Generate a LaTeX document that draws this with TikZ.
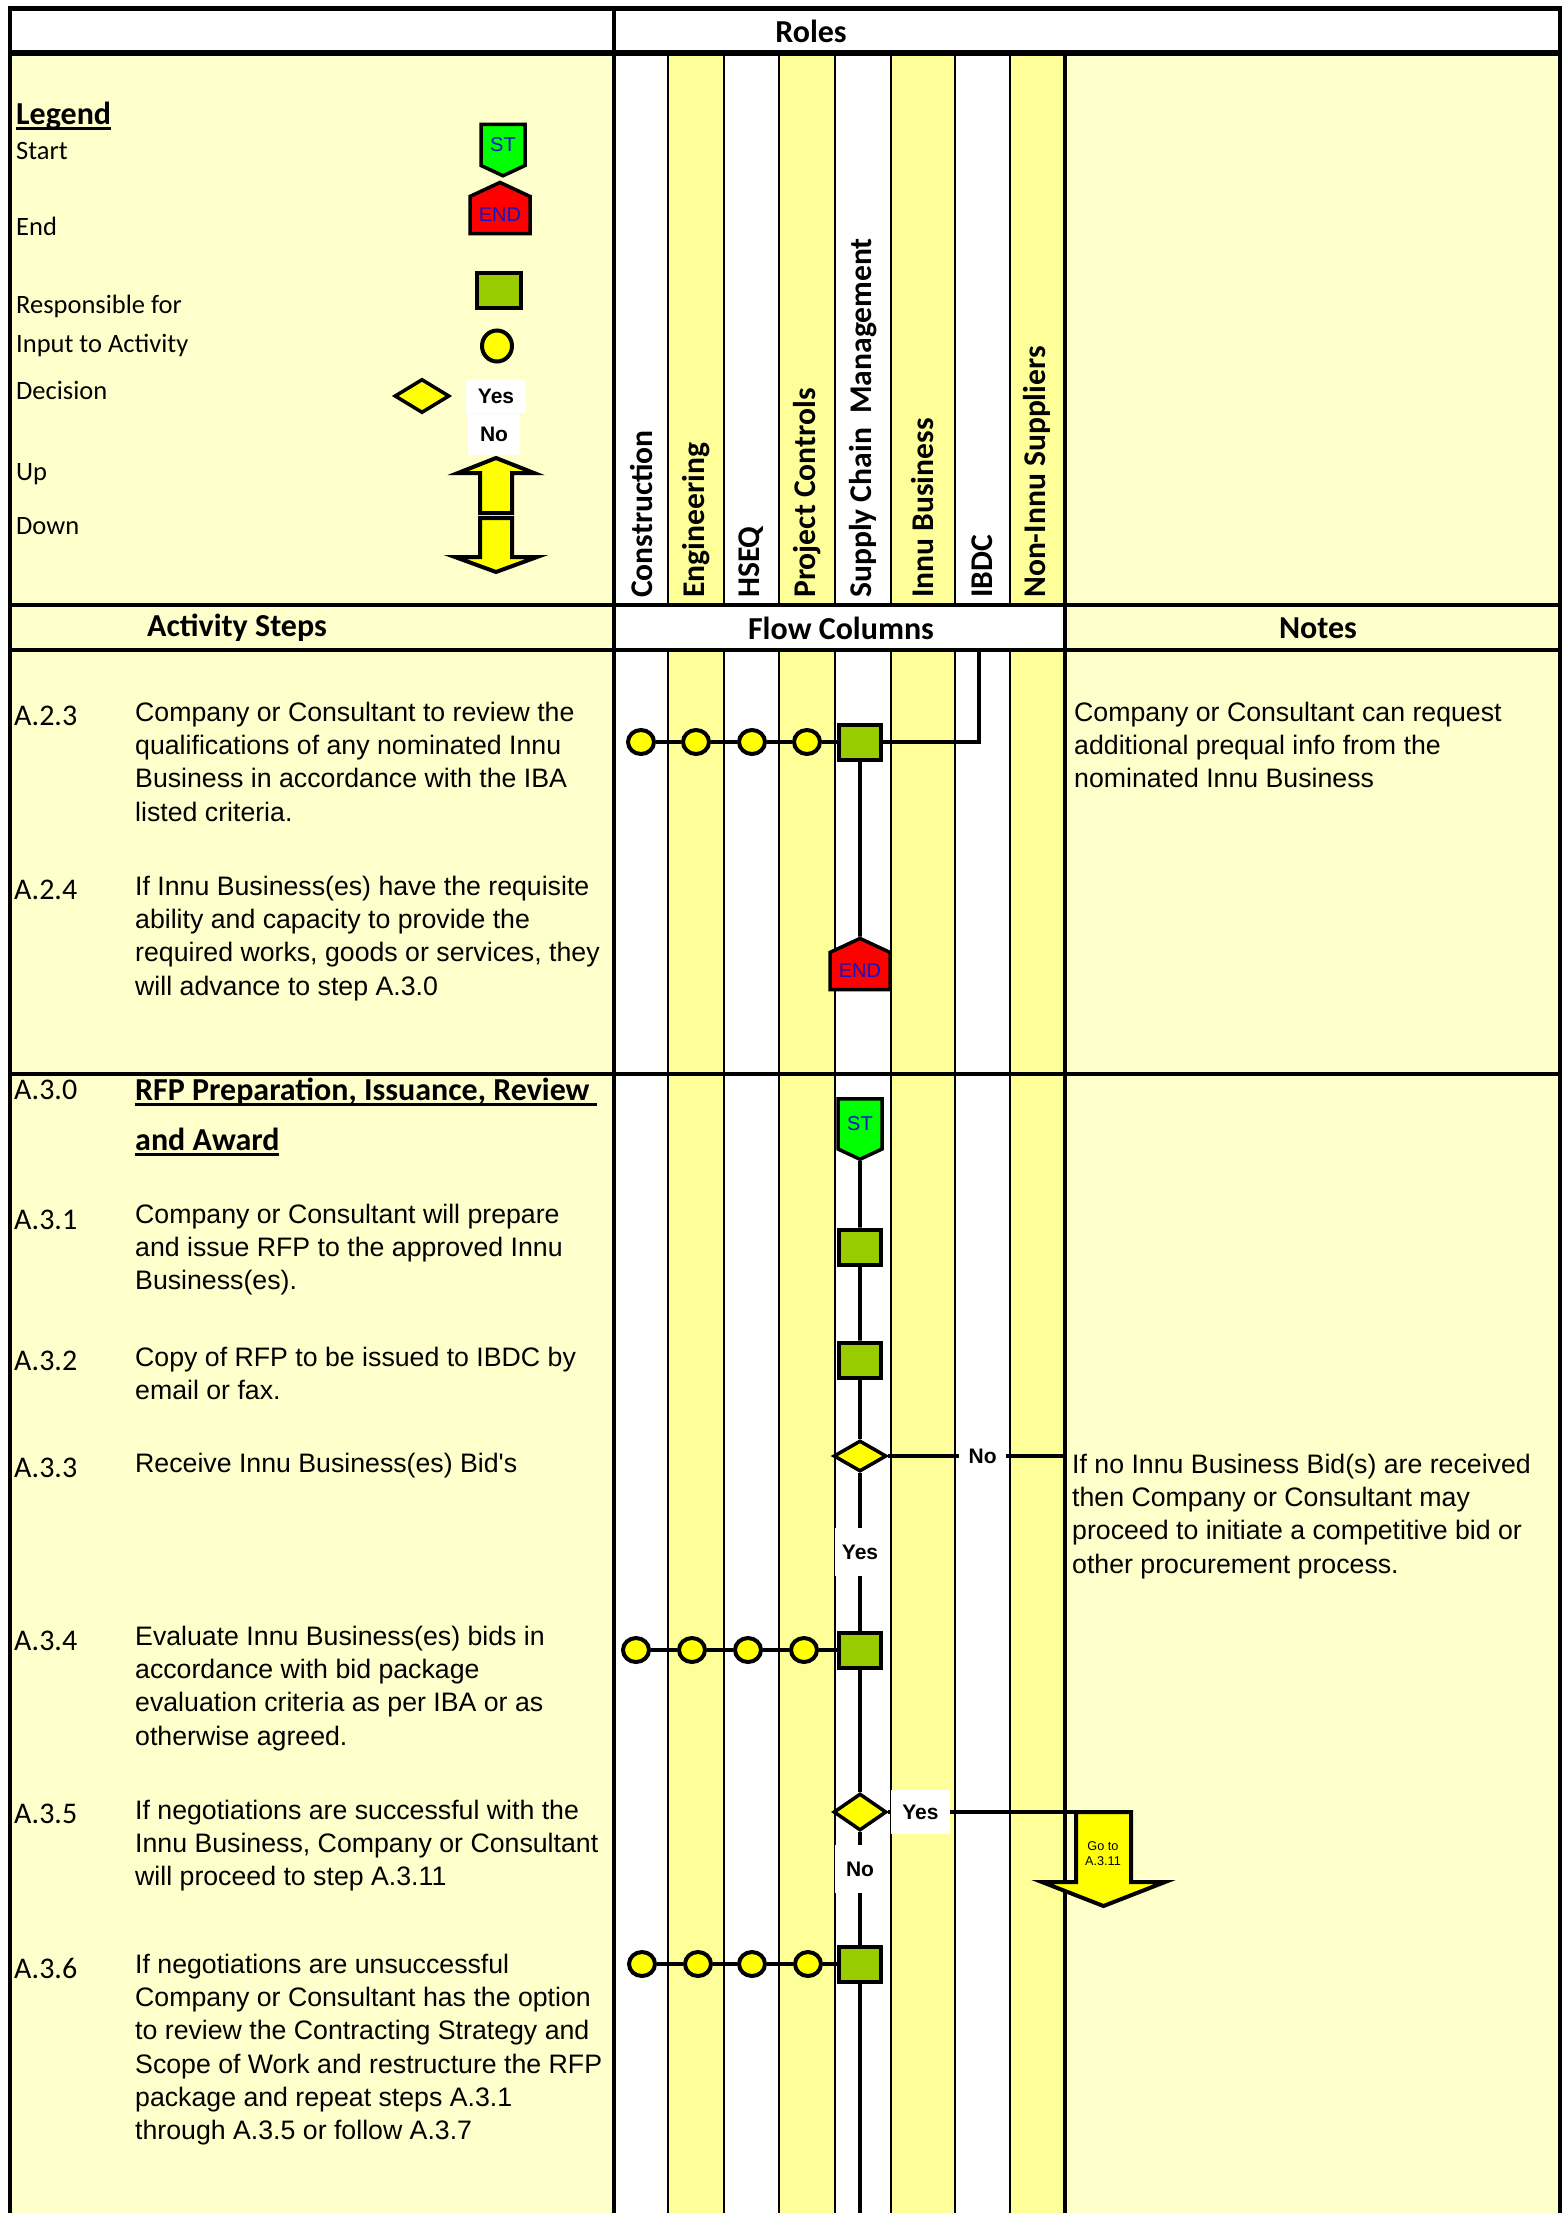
\documentclass[tikz,border=0pt]{standalone}
\usepackage{fontspec}
\setmainfont{Liberation Sans}
\newfontfamily\calib{Carlito}
\usepackage{tikz}
\usetikzlibrary{shapes.geometric, shapes.symbols, positioning}
\definecolor{paleYellow}{HTML}{FFFFCC}
\definecolor{laneYellow}{HTML}{FFFF99}
\definecolor{respGreen}{HTML}{99CC00}
\definecolor{inputYellow}{HTML}{FFFF00}
\definecolor{startGreen}{HTML}{00FF00}
\definecolor{endRed}{HTML}{FF0000}
\definecolor{tagBlue}{HTML}{1414C8}
\newcommand\undl[1]{\setbox0=\hbox{#1}\leavevmode\rlap{\rule[-5pt]{\wd0}{2.5pt}}\box0}
\newcommand\plainq{\XeTeXglyph\XeTeXglyphindex"quotesingle"\relax}

\begin{document}
\begin{tikzpicture}[x=1pt, y=-1pt,
    lane/.style={fill=laneYellow},
    grid/.style={line width=1.2pt},
    frame/.style={line width=3.5pt},
    head/.style={inner sep=0pt, font=\calib\bfseries\fontsize{32}{38}\selectfont},
    role/.style={rotate=90, anchor=west, inner sep=0pt, font=\calib\bfseries\fontsize{31.6}{36}\selectfont},
    key/.style={anchor=west, inner sep=0pt, font=\calib\fontsize{26.5}{32}\selectfont},
    stepno/.style={anchor=north west, inner sep=0pt, font=\calib\fontsize{30}{36}\selectfont},
    stepbox/.style={anchor=north west, inner sep=0pt, align=left, font=\fontsize{26.7}{33.2}\selectfont},
    resp/.style={rectangle, draw, line width=4pt, fill=respGreen, minimum width=42pt, minimum height=35pt, inner sep=0pt},
    inp/.style={ellipse, draw, line width=4pt, fill=inputYellow, minimum width=26pt, minimum height=24pt, inner sep=0pt},
    decide/.style={diamond, draw, line width=3.5pt, fill=inputYellow, minimum width=53pt, minimum height=31pt, inner sep=0pt},
    startsig/.style={signal, signal to=south, signal pointer angle=130, draw, line width=3.5pt, fill=startGreen,
                     text=tagBlue, minimum width=44pt, minimum height=56pt, inner sep=0pt, font=\fontsize{20}{24}\selectfont},
    endsig/.style={signal, signal to=north, signal pointer angle=130, draw, line width=3.5pt, fill=endRed,
                   text=tagBlue, minimum width=60pt, minimum height=47pt, inner sep=0pt, font=\fontsize{20}{24}\selectfont},
    lbl/.style={fill=white, minimum width=50pt, minimum height=48pt, inner sep=0pt, font=\bfseries\fontsize{21}{24}\selectfont},
    conn/.style={line width=3.6pt},
    bigarrow/.style={draw, line width=4pt, fill=inputYellow},
]
\useasboundingbox (0,0) rectangle (1563,2213);
\clip (0,0) rectangle (1563,2213);
\fill[white] (0,0) rectangle (1563,2213);
\fill[paleYellow] (10,53) rectangle (614,2213);
\fill[paleYellow] (1065,53) rectangle (1560,2213);
\foreach \xa/\xb in {668/724, 779/835, 891/955, 1010/1065}
    \fill[lane] (\xa,53) rectangle (\xb,2213);
\fill[white] (614,605) rectangle (1065,650);
\foreach \x in {668,724,779,835,891,955,1010} {
    \draw[grid] (\x,53) -- (\x,605);
    \draw[grid] (\x,650) -- (\x,2213);
}
\draw[line width=5pt] (8,9) -- (1562,9);
\draw[line width=6pt] (8,53) -- (1562,53);
\draw[frame] (10,9) -- (10,2213);
\draw[frame] (1560,9) -- (1560,2213);
\draw[frame] (614,9) -- (614,2213);
\draw[frame] (1065,53) -- (1065,2213);
\draw[frame] (10,605) -- (1560,605);
\draw[frame] (10,650) -- (1560,650);
\draw[frame] (10,1074) -- (1560,1074);

\node[head] (roles) at (811,31) {Roles};
\node[head] (actHead) at (237,628) {Activity Steps};
\node[head] (flowHead) at (841,628) {Flow Columns};
\node[head] (notesHead) at (1318,628) {Notes};
\foreach \x/\r [count=\i] in {641/Construction, 696/Engineering, 751/HSEQ, 807/Project Controls,
    863/Supply Chain\ \ Management, 923/Innu Business, 982/IBDC, 1037/Non-Innu Suppliers}
    \node[role] (role\i) at (\x,598) {\r};

\node[key, font=\calib\bfseries\fontsize{32}{38}\selectfont] (legendTitle) at (16,116) {\undl{Legend}};
\node[key] (keyStart) at (16,151) {Start};
\node[key] (keyEnd) at (16,226) {End};
\node[key] (keyResp) at (16,306) {Responsible for};
\node[key] (keyInput) at (16,345) {Input to Activity};
\node[key] (keyDecision) at (16,390) {Decision};
\node[key] (keyUp) at (16,474) {Up};
\node[key] (keyDown) at (16,526) {Down};

\node[startsig, minimum height=47pt] (symST) at (503,145) {ST};
\node[endsig] (symEND) at (500,215) {END};
\node[resp, minimum width=44pt] (symResp) at (499,290) {};
\node[inp, minimum width=30pt, minimum height=31pt] (symInput) at (497,346) {};
\node[decide, minimum width=55pt, minimum height=34pt] (symDecide) at (422,396) {};
\node[lbl, minimum width=60pt, minimum height=34pt] (symYes) at (496,396) {Yes};
\node[lbl, minimum width=52pt, minimum height=41pt] (symNo) at (494,434) {No};
\draw[bigarrow] (480,513) -- (480,473) -- (458,473) -- (496,458) -- (534,473) -- (512,473) -- (512,513) -- cycle;
\draw[bigarrow] (480,518) -- (512,518) -- (512,557) -- (537,557) -- (496,572) -- (455,557) -- (480,557) -- cycle;

\node[stepno] (no223) at (14,706) {A.2.3};
\node[stepbox] (txt223) at (135,702) {Company or Consultant to review the\\qualifications of any nominated Innu\\Business in accordance with the IBA\\listed criteria.};
\node[stepno] (no224) at (14,880) {A.2.4};
\node[stepbox] (txt224) at (135,876) {If Innu Business(es) have the requisite\\ability and capacity to provide the\\required works, goods or services, they\\will advance to step A.3.0};
\node[stepbox] (note223) at (1074,702) {Company or Consultant can request\\additional prequal info from the\\nominated Innu Business};

\node[stepno] (no230) at (14,1080) {A.3.0};
\node[stepbox, font=\calib\bfseries\fontsize{32}{50}\selectfont] (txt230) at (135,1078) {\undl{RFP Preparation, Issuance, Review\ }\\\undl{and Award}};
\node[stepno] (no231) at (14,1210) {A.3.1};
\node[stepbox] (txt231) at (135,1204) {Company or Consultant will prepare\\and issue RFP to the approved Innu\\Business(es).};
\node[stepno] (no232) at (14,1351) {A.3.2};
\node[stepbox] (txt232) at (135,1347) {Copy of RFP to be issued to IBDC by\\email or fax.};
\node[stepno] (no233) at (14,1458) {A.3.3};
\node[stepbox] (txt233) at (135,1453) {Receive Innu Business(es) Bid\plainq s};
\node[stepno] (no234) at (14,1631) {A.3.4};
\node[stepbox] (txt234) at (135,1626) {Evaluate Innu Business(es) bids in\\accordance with bid package\\evaluation criteria as per IBA or as\\otherwise agreed.};
\node[stepno] (no235) at (14,1804) {A.3.5};
\node[stepbox] (txt235) at (135,1800) {If negotiations are successful with the\\Innu Business, Company or Consultant\\will proceed to step A.3.11};
\node[stepno] (no236) at (14,1958) {A.3.6};
\node[stepbox] (txt236) at (135,1954) {If negotiations are unsuccessful\\Company or Consultant has the option\\to review the Contracting Strategy and\\Scope of Work and restructure the RFP\\package and repeat steps A.3.1\\through A.3.5 or follow A.3.7};
\node[stepbox] (note233) at (1072,1454) {If no Innu Business Bid(s) are received\\then Company or Consultant may\\proceed to initiate a competitive bid or\\other procurement process.};

\foreach \x [count=\i] in {641,696,752,807}
    \node[inp] (in1\i) at (\x,742) {};
\node[resp] (resp11) at (860,742) {};
\node[endsig] (end1) at (860,971) {END};
\coordinate (ibdcTop) at (979,650);
\draw[conn] (in11) -- (in12) -- (in13) -- (in14) -- (resp11);
\draw[conn] (resp11) -| (ibdcTop);
\draw[conn] (resp11) -- (end1);

\node[startsig] (st2) at (860,1124) {ST};
\node[resp] (resp21) at (860,1247) {};
\node[resp] (resp22) at (860,1360) {};
\node[decide] (dec21) at (860,1456) {};
\foreach \x [count=\i] in {636,692,748,804}
    \node[inp] (in3\i) at (\x,1650) {};
\node[resp] (resp23) at (860,1650) {};
\node[decide, minimum height=37pt] (dec22) at (860,1812) {};
\foreach \x [count=\i] in {642,698,752,808}
    \node[inp] (in4\i) at (\x,1964) {};
\node[resp] (resp24) at (860,1964) {};
\coordinate (noEnd) at (1063,1456);
\coordinate (gotoTop) at (1103,1812);
\coordinate (pageEnd) at (860,2213);

\draw[conn] (st2) -- (resp21) -- (resp22) -- (dec21);
\draw[conn] (dec21) -- node[lbl] (yes21) {Yes} (resp23);
\draw[conn] (dec21) -- node[lbl, pos=.54, minimum width=47pt] (no21) {No} (noEnd);
\draw[conn] (in31) -- (in32) -- (in33) -- (in34) -- (resp23);
\draw[conn] (resp23) -- (dec22);
\draw[conn] (dec22) -- node[lbl, pos=.15, minimum width=59pt, minimum height=44pt] (yes22) {Yes} (gotoTop);
\draw[conn] (dec22) -- node[lbl, pos=.33] (no22) {No} (resp24);
\draw[conn] (in41) -- (in42) -- (in43) -- (in44) -- (resp24);
\draw[conn] (resp24) -- (pageEnd);

\draw[bigarrow] (1076,1812) -- (1131,1812) -- (1131,1882) -- (1165,1882) -- (1103.5,1906) -- (1042,1882) -- (1076,1882) -- cycle;
\node[align=center, inner sep=0pt, font=\fontsize{12.7}{15}\selectfont] (goto) at (1103,1854) {Go to\\A.3.11};
\end{tikzpicture}
\end{document}
